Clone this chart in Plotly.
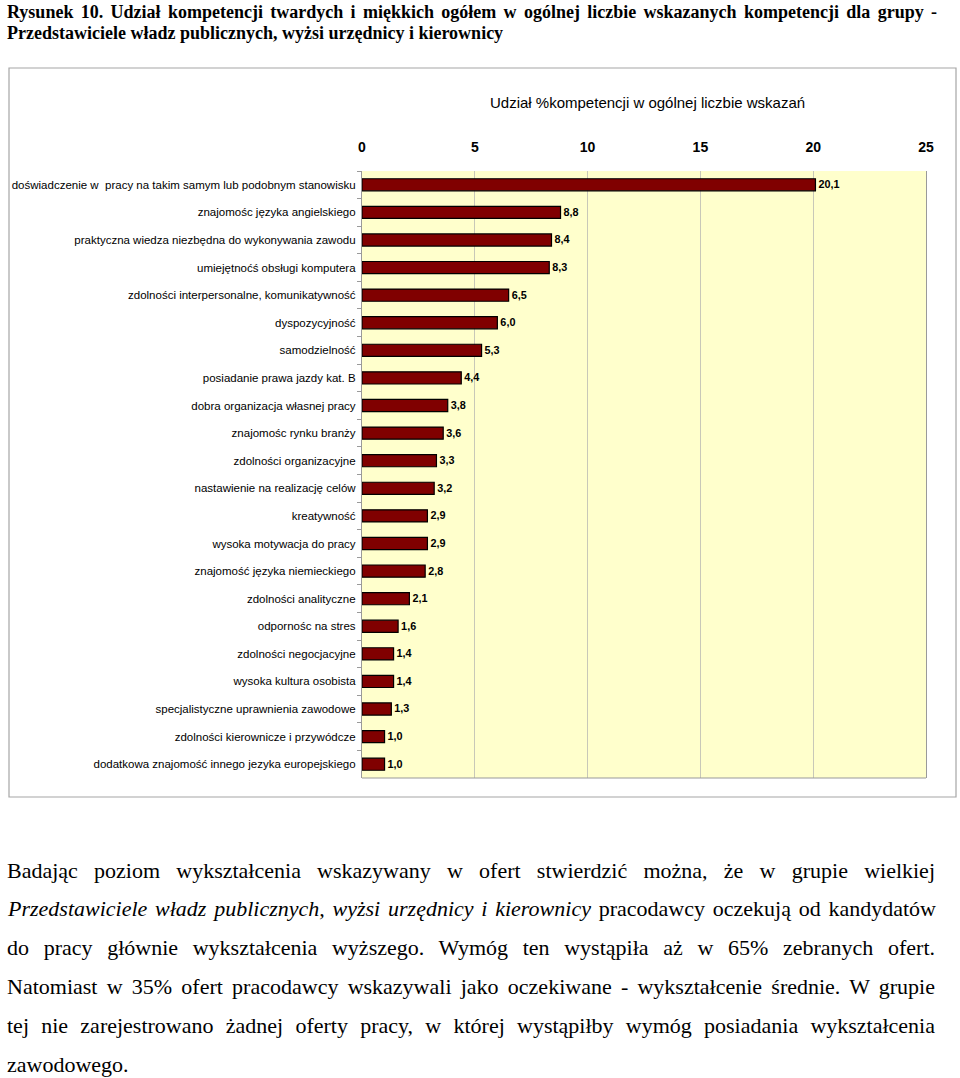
import json
import plotly.graph_objects as go

# kompetencje (od góry) i udział % we wskazaniach
kompetencje = [
    "doświadczenie w  pracy na takim samym lub podobnym stanowisku",
    "znajomośc języka angielskiego",
    "praktyczna wiedza niezbędna do wykonywania zawodu",
    "umiejętnoćś obsługi komputera",
    "zdolności interpersonalne, komunikatywność",
    "dyspozycyjność",
    "samodzielność",
    "posiadanie prawa jazdy kat. B",
    "dobra organizacja własnej pracy",
    "znajomośc rynku branży",
    "zdolności organizacyjne",
    "nastawienie na realizację celów",
    "kreatywność",
    "wysoka motywacja do pracy",
    "znajomość języka niemieckiego",
    "zdolności analityczne",
    "odpornośc na stres",
    "zdolności negocjacyjne",
    "wysoka kultura osobista",
    "specjalistyczne uprawnienia zawodowe",
    "zdolności kierownicze i przywódcze",
    "dodatkowa znajomość innego jezyka europejskiego",
]
udzial = [20.1, 8.8, 8.4, 8.3, 6.5, 6.0, 5.3, 4.4, 3.8, 3.6, 3.3, 3.2,
          2.9, 2.9, 2.8, 2.1, 1.6, 1.4, 1.4, 1.3, 1.0, 1.0]
osie_x = [0, 5, 10, 15, 20, 25]

tytul = [
    "Rysunek 10. Udział kompetencji twardych i miękkich ogółem w ogólnej liczbie wskazanych kompetencji dla grupy -",
    "Przedstawiciele władz publicznych, wyżsi urzędnicy i kierownicy",
]
tytul_osi = "Udział %kompetencji w ogólnej liczbie wskazań"
akapit = [
    "Badając poziom wykształcenia wskazywany w ofert stwierdzić można, że w grupie wielkiej",
    "<i>Przedstawiciele władz publicznych, wyżsi urzędnicy i kierownicy</i> pracodawcy oczekują od kandydatów",
    "do pracy głównie wykształcenia wyższego. Wymóg ten wystąpiła aż w 65% zebranych ofert.",
    "Natomiast w 35% ofert pracodawcy wskazywali jako oczekiwane - wykształcenie średnie. W grupie",
    "tej nie zarejestrowano żadnej oferty pracy, w której wystąpiłby wymóg posiadania wykształcenia",
    "zawodowego.",
]

SANS = "Liberation Sans, Arial, sans-serif"
SERIF = "Liberation Serif, Times New Roman, serif"

# plot area in page pixels
L, R, T, B = 362, 926, 171, 778
W, H = 960, 1078
AXIS_GREY = "#9A9A9A"


def xp(x):
    return (x - L) / (R - L)


def yp(y):
    return (B - y) / (B - T)


fig = go.Figure()
fig.add_trace(go.Bar(
    x=udzial, y=kompetencje, orientation="h",
    marker=dict(color="#800000", line=dict(color="black", width=1.2)),
    texttemplate="%{x:.1f}", textposition="outside",
    textfont=dict(family=SANS, size=12.5, color="black", weight="bold"),
    cliponaxis=False,
))

annotations = []
for i, line in enumerate(tytul):
    annotations.append(dict(
        text=f"<b>{line}</b>", x=xp(5), y=yp(12 + i * 21), xref="paper", yref="paper",
        xanchor="left", yanchor="middle", align="left", showarrow=False,
        font=dict(family=SERIF, size=18, color="black")))
annotations.append(dict(
    text=tytul_osi, x=xp(647), y=yp(103), xref="paper", yref="paper",
    xanchor="center", yanchor="middle", showarrow=False,
    font=dict(family=SANS, size=15, color="black")))
for i, line in enumerate(akapit):
    annotations.append(dict(
        text=line, x=xp(5), y=yp(870 + i * 38.8), xref="paper", yref="paper",
        xanchor="left", yanchor="middle", align="left", showarrow=False,
        font=dict(family=SERIF, size=22, color="black")))

fig.update_layout(
    width=W, height=H,
    margin=dict(l=L, r=W - R, t=T, b=H - B, autoexpand=False),
    paper_bgcolor="white", plot_bgcolor="#FFFFCC",
    showlegend=False, bargap=0.56, separators=",.",
    font=dict(family=SANS, color="black"),
    annotations=annotations,
    shapes=[
        dict(type="rect", xref="paper", yref="paper",
             x0=xp(9), x1=xp(956), y0=yp(797), y1=yp(68),
             line=dict(color="#A6A6A6", width=1.2)),
        dict(type="line", xref="paper", yref="paper", x0=0, x1=1, y0=0, y1=0,
             line=dict(color=AXIS_GREY, width=1.2)),
    ],
)
fig.update_xaxes(
    side="top", range=[0, 25], tickvals=osie_x, automargin=False,
    tickfont=dict(family=SANS, size=14, color="black", weight="bold"),
    showgrid=True, gridcolor="#C8C8B8", gridwidth=1, zeroline=False,
    showline=False, ticks="", ticklabelstandoff=15,
)
fig.update_yaxes(
    autorange="reversed", automargin=False,
    tickfont=dict(family=SANS, size=11.5, color="black"),
    showline=True, linecolor=AXIS_GREY, linewidth=1.2, mirror=True,
    ticks="outside", tickson="boundaries", ticklen=4, tickcolor=AXIS_GREY,
    ticklabelstandoff=3,
)

# justify the paragraph lines (all but the last) like in the source document
do_justowania = [s.replace("<i>", "").replace("</i>", "") for s in akapit[:-1]] + [tytul[0]]
post = """
document.body.style.margin = '0';
var gd = document.getElementById('{plot_id}');
var lines = %s;
function justify() {
  gd.querySelectorAll('text.annotation-text').forEach(function (t) {
    var s = t.textContent;
    if (lines.indexOf(s) < 0) return;
    t.style.wordSpacing = '0px';
    var w = t.getComputedTextLength();
    var n = (s.match(/ /g) || []).length;
    var target = (s === lines[lines.length - 1]) ? 930 : 928;
    if (n > 0) t.style.wordSpacing = ((target - w) / n) + 'px';
  });
}
justify();
gd.on('plotly_afterplot', justify);
""" % json.dumps(do_justowania)

fig.write_html("out.html", post_script=post, config={"displayModeBar": False})
